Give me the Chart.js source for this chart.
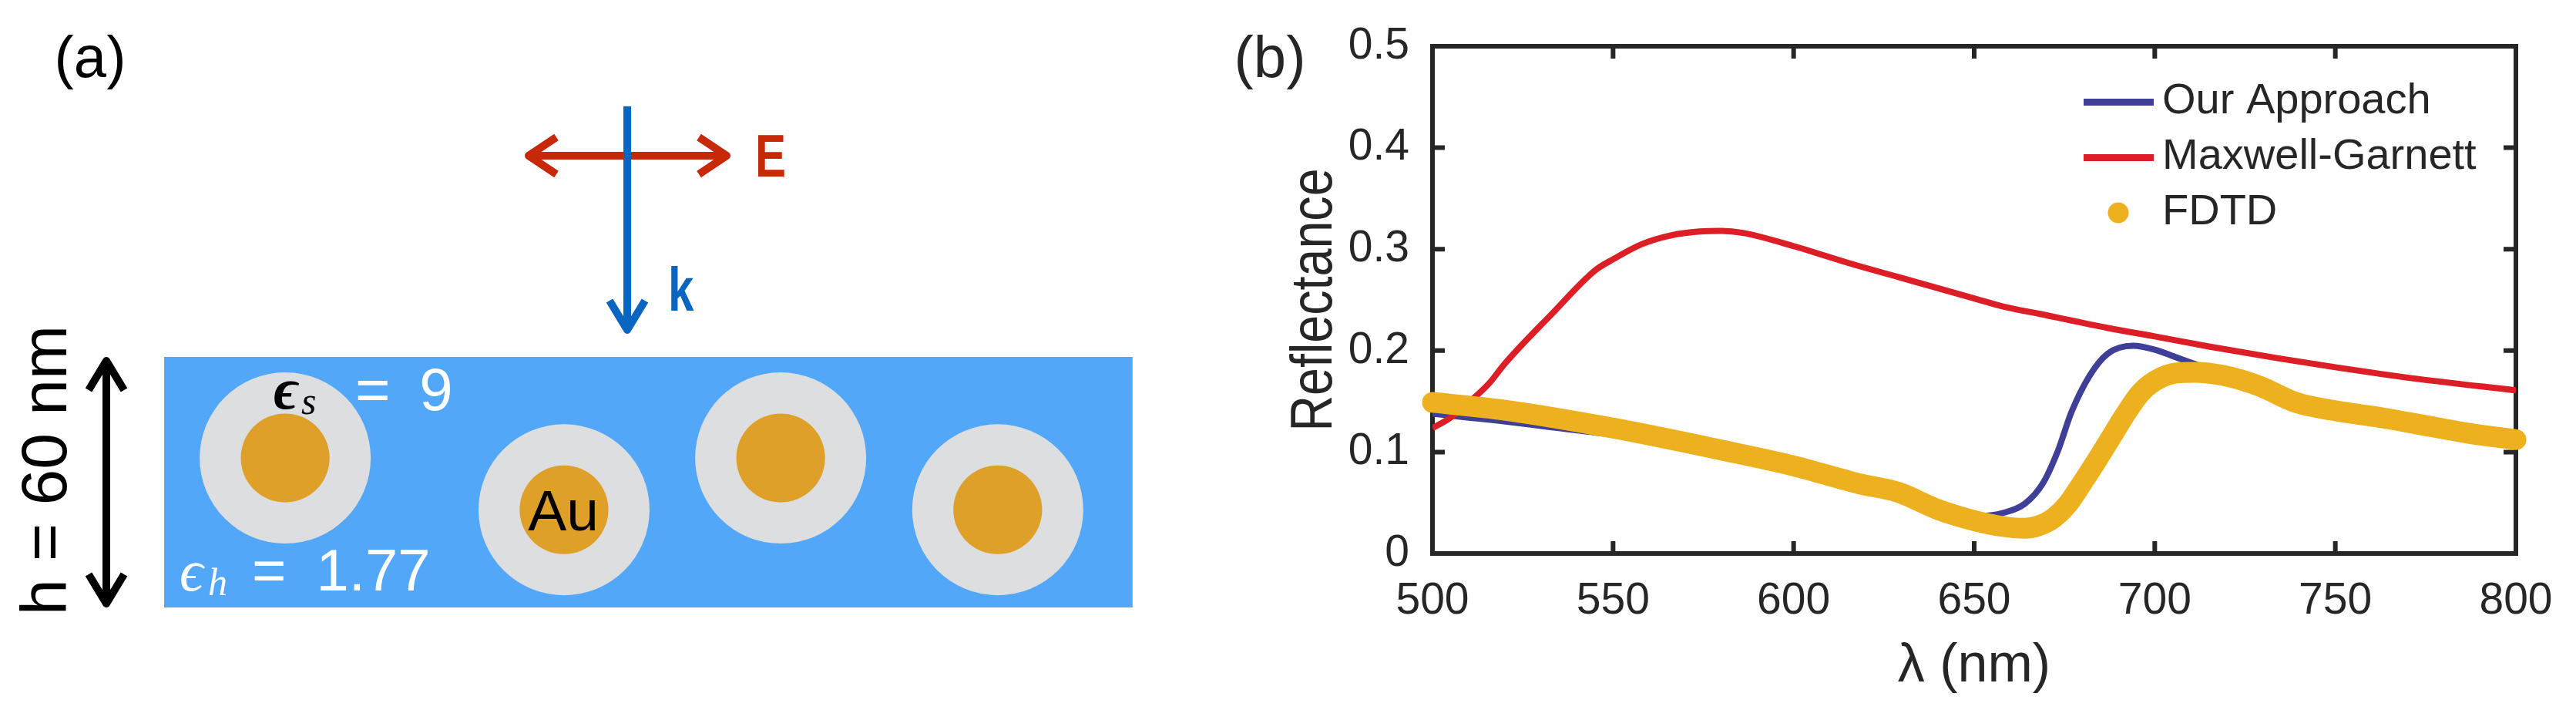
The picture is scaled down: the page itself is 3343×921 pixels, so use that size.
<!DOCTYPE html>
<html>
<head>
<meta charset="utf-8">
<title>Reflectance</title>
<script src="https://cdn.jsdelivr.net/npm/chart.js@4"></script>
<style>
  html, body { margin: 0; background: #fff; }
  canvas { position: absolute; top: 0; }
  #schematic { left: 0; }
  #reflectance { left: 1600px; }
</style>
</head>
<body>
<canvas id="schematic" width="1600" height="921"></canvas>
<canvas id="reflectance" width="1743" height="921"></canvas>
<script>
// panel (b), values
var xTicks = [500, 550, 600, 650, 700, 750, 800];
var yTicks = [0, 0.1, 0.2, 0.3, 0.4, 0.5];

var approachX = [500, 510, 518, 533, 550, 570, 590, 610, 630, 645, 652, 658, 664, 669, 673, 677, 682, 687, 694, 700, 706, 711, 720, 730, 740, 750, 765, 780, 800];
var approachY = [0.138, 0.134, 0.131, 0.1244, 0.117, 0.105, 0.09, 0.072, 0.055, 0.042, 0.037, 0.04, 0.049, 0.069, 0.0995, 0.14, 0.1755, 0.197, 0.2047, 0.2009, 0.1933, 0.187, 0.174, 0.16, 0.147, 0.14, 0.132, 0.122, 0.112];

var garnettX = [500, 505, 512, 516, 520, 533, 545, 550, 558, 566, 574, 580, 586, 600, 616, 629, 650, 658, 668, 687, 700, 715, 734, 750, 773, 800];
var garnettY = [0.1236, 0.134, 0.155, 0.169, 0.187, 0.236, 0.279, 0.29, 0.305, 0.3136, 0.3174, 0.318, 0.316, 0.303, 0.2855, 0.2725, 0.2515, 0.2435, 0.2363, 0.2223, 0.214, 0.204, 0.1925, 0.1836, 0.172, 0.1608];

var fdtdX = [500, 520, 550, 580, 600, 618, 629, 640, 650, 658, 664, 668, 672, 676, 680, 684, 688, 692, 696, 700, 706, 711, 719, 729, 739, 749, 763, 773, 787, 800];
var fdtdY = [0.149, 0.1413, 0.1236, 0.102, 0.0864, 0.0689, 0.0603, 0.0433, 0.0324, 0.0266, 0.0248, 0.0275, 0.035, 0.049, 0.07, 0.092, 0.115, 0.138, 0.158, 0.17, 0.178, 0.1786, 0.1755, 0.165, 0.149, 0.1413, 0.1337, 0.1274, 0.1185, 0.1122];

// panel (a), particle centres in nm inside the 60 nm film
var particleX = [29, 95.8, 147.7, 199.7];
var particleY = [35.8, 23.4, 35.8, 23.4];
var filmWidth = 232;
var filmHeight = 60;

var ink = '#262626';
var sans = '"Liberation Sans", sans-serif';

Chart.defaults.font.family = sans;
Chart.defaults.color = ink;

function pairs(xs, ys) {
  return xs.map(function (x, i) { return { x: x, y: ys[i] }; });
}

// legend keys are wider than the gap chart.js leaves, so they are small canvases
function lineKey(color) {
  var c = document.createElement('canvas');
  c.width = 92; c.height = 9;
  var g = c.getContext('2d');
  g.fillStyle = color;
  g.fillRect(0, 0, 92, 9);
  return c;
}
function dotKey(color) {
  var c = document.createElement('canvas');
  c.width = 28; c.height = 28;
  var g = c.getContext('2d');
  g.fillStyle = color;
  g.arc(14, 14, 13.5, 0, Math.PI * 2);
  g.fill();
  return c;
}

// no narrow font is installed, so squeezed labels go through a canvas scale
function drawLabel(ctx, t) {
  ctx.save();
  ctx.font = t.font;
  ctx.fillStyle = t.color;
  ctx.textAlign = t.align || 'left';
  ctx.wordSpacing = (t.wordGap || 0) + 'px';
  ctx.translate(t.x, t.y);
  if (t.rotate) ctx.rotate(-Math.PI / 2);
  ctx.scale(t.squeeze || 1, 1);
  ctx.fillText(t.text, 0, 0);
  ctx.restore();
}

var panelBText = [
  { text: '(b)', x: 48, y: 100, font: '76px ' + sans, color: ink, align: 'center' },
  { text: 'Reflectance', x: 128, y: 389, font: '76px ' + sans, color: ink, align: 'center', rotate: true, squeeze: 0.85 }
];

// matlab style box with the ticks pointing in on all four sides
var boxPlugin = {
  id: 'box',
  beforeDatasetsDraw: function (chart) {
    var a = chart.chartArea, ctx = chart.ctx;
    ctx.save();
    ctx.strokeStyle = ink;
    ctx.lineWidth = 6;
    ctx.beginPath();
    xTicks.forEach(function (v) {
      var px = chart.scales.x.getPixelForValue(v);
      ctx.moveTo(px, a.bottom); ctx.lineTo(px, a.bottom - 16);
      ctx.moveTo(px, a.top); ctx.lineTo(px, a.top + 16);
    });
    yTicks.forEach(function (v) {
      var py = chart.scales.y.getPixelForValue(v);
      ctx.moveTo(a.left, py); ctx.lineTo(a.left + 16, py);
      ctx.moveTo(a.right, py); ctx.lineTo(a.right - 16, py);
    });
    ctx.stroke();
    ctx.strokeRect(a.left, a.top, a.right - a.left, a.bottom - a.top);
    ctx.restore();
  },
  afterLayout: function (chart) {
    chart.legend.left = 1104;
    chart.legend.top = 88;
  },
  afterDraw: function (chart) {
    panelBText.forEach(function (t) { drawLabel(chart.ctx, t); });
  }
};

new Chart(document.getElementById('reflectance'), {
  type: 'line',
  plugins: [boxPlugin],
  data: {
    datasets: [
      {
        label: 'Our Approach',
        data: pairs(approachX, approachY),
        borderColor: '#3f3f98',
        borderWidth: 8,
        pointRadius: 0,
        pointStyle: lineKey('#3f3f98'),
        cubicInterpolationMode: 'monotone',
        order: 2
      },
      {
        label: 'Maxwell-Garnett',
        data: pairs(garnettX, garnettY),
        borderColor: '#dc1f26',
        borderWidth: 8,
        pointRadius: 0,
        pointStyle: lineKey('#dc1f26'),
        cubicInterpolationMode: 'monotone',
        order: 1
      },
      {
        label: 'FDTD',
        data: pairs(fdtdX, fdtdY),
        borderColor: '#edb120',
        borderWidth: 27,
        borderCapStyle: 'round',
        borderJoinStyle: 'round',
        pointRadius: 0,
        pointStyle: dotKey('#edb120'),
        cubicInterpolationMode: 'monotone',
        clip: false,
        order: 0
      }
    ]
  },
  options: {
    responsive: false,
    animation: false,
    devicePixelRatio: 1,
    events: [],
    layout: { autoPadding: false, padding: { top: 60, right: 78, left: 0, bottom: 0 } },
    plugins: {
      tooltip: { enabled: false },
      legend: {
        position: 'chartArea',
        align: 'start',
        labels: {
          usePointStyle: true,
          pointStyleWidth: 58,
          boxHeight: 18,
          padding: 16,
          color: ink,
          font: { size: 56 },
          sort: function (a, b) { return a.datasetIndex - b.datasetIndex; }
        }
      }
    },
    scales: {
      x: {
        type: 'linear',
        min: 500,
        max: 800,
        grid: { display: false },
        border: { display: false },
        afterBuildTicks: function (s) { s.ticks = xTicks.map(function (v) { return { value: v }; }); },
        afterFit: function (s) { s.height = 203; },
        ticks: { font: { size: 57 }, color: ink, padding: 20, maxRotation: 0, autoSkip: false },
        title: { display: true, text: 'λ (nm)', color: ink, font: { size: 70, lineHeight: 1 }, padding: { top: 0, bottom: 21 } }
      },
      y: {
        min: 0,
        max: 0.5,
        grid: { display: false },
        border: { display: false },
        afterBuildTicks: function (s) { s.ticks = yTicks.map(function (v) { return { value: v }; }); },
        afterFit: function (s) { s.width = 259; },
        ticks: { font: { size: 57 }, color: ink, padding: 22, autoSkip: false }
      }
    }
  }
});

// ---- panel (a) ----
var schematicText = [
  { text: '(a)', x: 117, y: 100, font: '76px ' + sans, color: '#000', align: 'center' },
  { text: 'E', x: 980, y: 229, font: 'bold 78px ' + sans, color: '#c62808', squeeze: 0.77 },
  { text: 'k', x: 867, y: 403, font: 'bold 80px ' + sans, color: '#0a65c0', squeeze: 0.75 },
  { text: 'ϵ', x: 355, y: 530, font: 'italic bold 76px "Liberation Serif", serif', color: '#000' },
  { text: 's', x: 391, y: 537, font: 'italic 50px "Liberation Serif", serif', color: '#000' },
  { text: '= 9', x: 461, y: 532, font: '78px ' + sans, color: '#fff', wordGap: 16 },
  { text: 'ϵ', x: 233, y: 766, font: 'italic 76px "Liberation Serif", serif', color: '#fff' },
  { text: 'h', x: 270, y: 772, font: 'italic 50px "Liberation Serif", serif', color: '#fff' },
  { text: '= 1.77', x: 327, y: 766, font: '76px ' + sans, color: '#fff', wordGap: 18 },
  { text: 'Au', x: 731, y: 688, font: '75px ' + sans, color: '#000', align: 'center' },
  { text: 'h = 60 nm', x: 86, y: 610, font: '84px ' + sans, color: '#000', align: 'center', rotate: true }
];

var schematicPlugin = {
  id: 'schematic',
  beforeDatasetsDraw: function (chart) {
    var sx = chart.scales.x, sy = chart.scales.y, ctx = chart.ctx;
    ctx.save();
    ctx.fillStyle = '#52a7f9';
    ctx.fillRect(sx.getPixelForValue(0), sy.getPixelForValue(filmHeight),
      sx.getPixelForValue(filmWidth) - sx.getPixelForValue(0),
      sy.getPixelForValue(0) - sy.getPixelForValue(filmHeight));
    ctx.restore();
  },
  afterDatasetsDraw: function (chart) {
    var ctx = chart.ctx;
    ctx.save();
    ctx.lineWidth = 10;
    ctx.lineJoin = 'round';

    // polarisation E
    ctx.strokeStyle = '#c62808';
    ctx.beginPath(); ctx.moveTo(686, 202); ctx.lineTo(943, 202); ctx.stroke();
    ctx.beginPath(); ctx.moveTo(722, 178); ctx.lineTo(686, 202); ctx.lineTo(722, 226); ctx.stroke();
    ctx.beginPath(); ctx.moveTo(907, 178); ctx.lineTo(943, 202); ctx.lineTo(907, 226); ctx.stroke();

    // wave vector k
    ctx.strokeStyle = '#0a65c0';
    ctx.beginPath(); ctx.moveTo(814, 138); ctx.lineTo(814, 428); ctx.stroke();
    ctx.beginPath(); ctx.moveTo(791, 390); ctx.lineTo(814, 428); ctx.lineTo(837, 390); ctx.stroke();

    // film thickness
    ctx.strokeStyle = '#000';
    ctx.beginPath(); ctx.moveTo(138, 468); ctx.lineTo(138, 783); ctx.stroke();
    ctx.beginPath(); ctx.moveTo(115, 506); ctx.lineTo(138, 468); ctx.lineTo(161, 506); ctx.stroke();
    ctx.beginPath(); ctx.moveTo(115, 745); ctx.lineTo(138, 783); ctx.lineTo(161, 745); ctx.stroke();

    schematicText.forEach(function (t) { drawLabel(ctx, t); });
    ctx.restore();
  }
};

new Chart(document.getElementById('schematic'), {
  type: 'scatter',
  plugins: [schematicPlugin],
  data: {
    datasets: [
      { label: 'Au core', data: pairs(particleX, particleY), backgroundColor: '#dea029', borderWidth: 0, pointRadius: 57.6 },
      { label: 'Shell', data: pairs(particleX, particleY), backgroundColor: '#dcdee0', borderWidth: 0, pointRadius: 111 }
    ]
  },
  options: {
    responsive: false,
    animation: false,
    devicePixelRatio: 1,
    events: [],
    layout: { autoPadding: false, padding: 0 },
    plugins: { legend: { display: false }, tooltip: { enabled: false } },
    scales: {
      x: { type: 'linear', display: false, min: -39.32, max: 256.04 },
      y: { type: 'linear', display: false, min: -24.55, max: 145.47 }
    }
  }
});
</script>
</body>
</html>
